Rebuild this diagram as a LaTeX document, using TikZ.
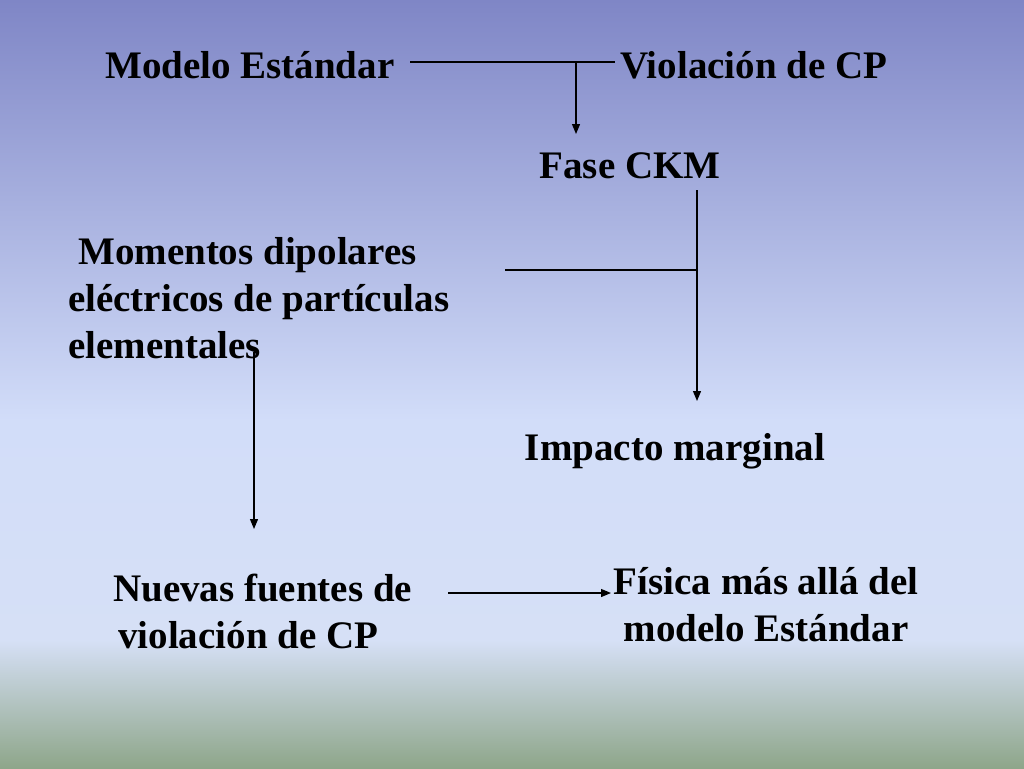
\documentclass[tikz,border=0pt]{standalone}
\usepackage{fontspec}
\setmainfont{Liberation Serif}
\usetikzlibrary{arrows.meta}
\definecolor{cA}{HTML}{7F86C6}
\definecolor{cB}{HTML}{D2DDF9}
\definecolor{cC}{HTML}{D6E0F6}
\definecolor{cD}{HTML}{8EA68A}
\begin{document}
\begin{tikzpicture}[x=1pt,y=-1pt,
  lbl/.style={font=\fontsize{39}{47}\selectfont\bfseries, inner sep=0pt, anchor=base west},
  ln/.style={line width=1.2pt, black},
  arr/.style={ln, -{Triangle[length=10pt,width=8pt]}}]
\useasboundingbox (0,0) rectangle (1024,768);
\shade[top color=cA,bottom color=cB] (0,0) rectangle (1024,421);
\shade[top color=cB,bottom color=cC] (0,420) rectangle (1024,641);
\shade[top color=cC,bottom color=cD] (0,640) rectangle (1024,768);
\node[lbl] (ms) at (105,78) {Modelo Estándar};
\node[lbl] (vcp) at (620,78) {Violación de CP};
\node[lbl,anchor=base] (ckm) at (630,178) {Fase CKM};
\node[lbl,align=left] (mom) at (68,358) {\hspace{10pt}Momentos dipolares\\eléctricos de partículas\\elementales};
\node[lbl,anchor=base] (imp) at (675,460) {Impacto marginal};
\node[lbl,align=left] (nue) at (113,648) {Nuevas fuentes de\\\hspace{5pt}violación de CP};
\node[lbl,align=center,anchor=base] (fis) at (766,641) {Física más allá del\\modelo Estándar};
\coordinate (a1) at (410,62); \coordinate (a2) at (615,62);
\coordinate (a3) at (576,62); \coordinate (a4) at (576,134);
\draw[ln] (a1) -- (a2);
\draw[arr] (a3) -- (a4);
\coordinate (b1) at (697,190); \coordinate (b2) at (697,401);
\coordinate (b3) at (505,270); \coordinate (b4) at (697,270);
\draw[arr] (b1) -- (b2);
\draw[ln] (b3) -- (b4);
\coordinate (c1) at (254,352); \coordinate (c2) at (254,529);
\draw[arr] (c1) -- (c2);
\coordinate (d1) at (448,593); \coordinate (d2) at (611,593);
\draw[arr] (d1) -- (d2);
\end{tikzpicture}
\end{document}
